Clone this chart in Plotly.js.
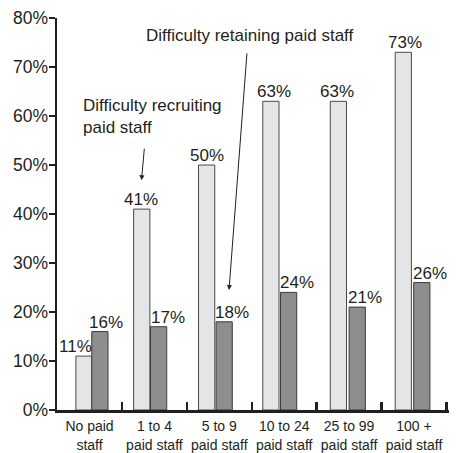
<!DOCTYPE html>
<html>
<head>
<meta charset="utf-8">
<script src="https://cdn.plot.ly/plotly-3.0.1.min.js"></script>
<style>html,body{margin:0;padding:0;background:#fff;}#chart{width:456px;height:453px;}</style>
</head>
<body>
<div id="chart"></div>
<script>
const categories = ["No paid<br>staff", "1 to 4<br>paid staff", "5 to 9<br>paid staff", "10 to 24<br>paid staff", "25 to 99<br>paid staff", "100 +<br>paid staff"];
const recruiting = [11, 41, 50, 63, 63, 73];
const retaining = [16, 17, 18, 24, 21, 26];
const yTicks = [0, 10, 20, 30, 40, 50, 60, 70, 80];

const FONT = '"Liberation Sans", Arial, Helvetica, sans-serif';
const INK = '#231f20';

// bar placement within each category (category units) and label nudges (px)
const lightOffset = [-0.21, -0.32, -0.32, -0.33, -0.29, -0.29];
const darkOffset = [0.035, -0.06, -0.05, -0.057, 0, -0.005];
const lightShift = [-14, -13, -12, -10, -12, -9];
const darkShift = [16, 14, 13, 13, 16, 16];

const annotations = [];
recruiting.forEach((v, i) => annotations.push({
  x: i, y: v, xref: 'x', yref: 'y', text: v + '%', showarrow: false,
  xanchor: 'center', yanchor: 'bottom', xshift: lightShift[i], yshift: -2,
  font: {family: FONT, size: 17, color: INK}
}));
retaining.forEach((v, i) => annotations.push({
  x: i, y: v, xref: 'x', yref: 'y', text: v + '%', showarrow: false,
  xanchor: 'center', yanchor: 'bottom', xshift: darkShift[i], yshift: -2,
  font: {family: FONT, size: 17, color: INK}
}));
annotations.push({
  x: 2.47, y: 76.5, xref: 'x', yref: 'y', text: 'Difficulty retaining paid staff',
  showarrow: false, xanchor: 'center', yanchor: 'middle',
  font: {family: FONT, size: 17, color: INK}
});
annotations.push({
  x: 2.15, y: 24.5, xref: 'x', yref: 'y', text: '', showarrow: true,
  ax: 18, ay: -238, arrowhead: 2, arrowsize: 1, arrowwidth: 1, arrowcolor: INK, standoff: 0
});
annotations.push({
  x: -0.13, y: 59.9, xref: 'x', yref: 'y', text: 'Difficulty recruiting<br>paid staff',
  showarrow: false, xanchor: 'left', yanchor: 'middle', align: 'left',
  font: {family: FONT, size: 17, color: INK}
});
annotations.push({
  x: 0.801, y: 46.9, xref: 'x', yref: 'y', text: '', showarrow: true,
  ax: 3, ay: -33, arrowhead: 2, arrowsize: 1, arrowwidth: 1, arrowcolor: INK, standoff: 0
});

const data = [
  {type: 'bar', x: categories, y: recruiting, name: 'Difficulty recruiting paid staff',
   width: 0.25, offset: lightOffset,
   marker: {color: '#e4e5e7', line: {color: '#4a4a4a', width: 1}}, hoverinfo: 'skip'},
  {type: 'bar', x: categories, y: retaining, name: 'Difficulty retaining paid staff',
   width: 0.25, offset: darkOffset,
   marker: {color: '#8e8e90', line: {color: '#3a3a3a', width: 1}}, hoverinfo: 'skip'}
];

const layout = {
  width: 456, height: 453,
  margin: {l: 57, r: 7, t: 18, b: 43, pad: 0},
  paper_bgcolor: '#fff', plot_bgcolor: '#fff',
  showlegend: false,
  barmode: 'overlay',
  font: {family: FONT, color: INK},
  xaxis: {
    type: 'category', showline: true, linecolor: INK, linewidth: 2.5,
    ticks: 'inside', tickson: 'boundaries', ticklen: 8, tickwidth: 2.5, tickcolor: INK,
    tickangle: 0, automargin: false, ticklabelstandoff: 2,
    tickfont: {family: FONT, size: 14, color: INK}, showgrid: false, zeroline: false,
    fixedrange: true
  },
  yaxis: {
    range: [0, 80], tickvals: yTicks, ticktext: yTicks.map(t => t + '%'),
    showline: true, linecolor: INK, linewidth: 2.5,
    ticks: 'outside', ticklen: 6, tickwidth: 2.5, tickcolor: INK, automargin: false,
    ticklabelstandoff: -3,
    tickfont: {family: FONT, size: 17.5, color: INK}, showgrid: false, zeroline: false,
    fixedrange: true
  },
  annotations: annotations
};

Plotly.newPlot('chart', data, layout, {staticPlot: true, displayModeBar: false});
</script>
</body>
</html>
